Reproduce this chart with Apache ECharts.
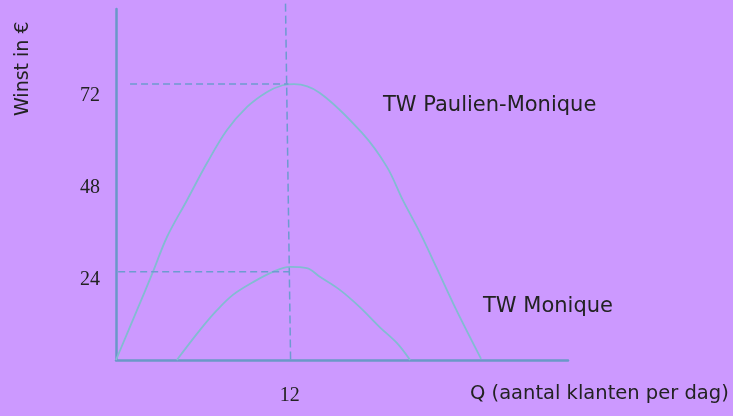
<!DOCTYPE html>
<html>
<head>
<meta charset="utf-8">
<script src="https://cdn.jsdelivr.net/npm/echarts@6/dist/echarts.min.js"></script>
<style>
  html, body { margin: 0; padding: 0; background: #cc99ff; }
  #main { width: 733px; height: 416px; }
</style>
</head>
<body>
<div id="main"></div>
<script>
// TW Paulien-Monique
var bigQ = [0, 1.45, 2.55, 3.52, 4.9, 6.28, 7.66, 9.03, 10.4, 11.5, 12.3, 14.07, 17.0, 18.7, 19.8, 21.0, 22.1, 23.5, 25.2];
var bigW = [0, 13.0, 23.0, 32.1, 41.7, 51.4, 60.0, 66.0, 69.9, 71.7, 72, 69.7, 59.2, 50.4, 41.7, 33.1, 24.3, 13.0, 0.3];

// TW Monique
var smallQ = [4.2, 5.79, 6.97, 8.07, 9.45, 10.83, 12.0, 13.17, 14.07, 15.45, 16.83, 18.2, 19.4, 20.3];
var smallW = [0, 7.8, 13.0, 17.0, 20.3, 23.0, 24.3, 24.0, 21.7, 18.3, 13.8, 8.6, 4.4, 0];

// hulplijnen
var line72 = [[0.97, 72], [11.9, 72]];
var line24 = [[0.15, 23], [12.0, 23]];
var line12 = [[11.7, 93], [12.05, 0]];

var yTicks = [24, 48, 72];
var xTicks = [12];

function pairs(xs, ys) {
  return xs.map(function (x, i) { return [x, ys[i]]; });
}

var chartDom = document.getElementById('main');
var myChart = echarts.init(chartDom);

var curveColor = '#82bcd2';
var dashColor = '#6d9bd0';
var axisColor = '#6a98c8';
var textFont = '"DejaVu Sans", sans-serif';

var option = {
  backgroundColor: '#cc99ff',
  animation: false,
  grid: { left: 116, top: 9, right: 165, bottom: 56 },
  xAxis: {
    type: 'value',
    min: 0,
    max: 31.2,
    interval: 12,
    splitLine: { show: false },
    axisTick: { show: false },
    axisLine: { show: true, lineStyle: { color: axisColor, width: 2.5 } },
    axisLabel: {
      margin: 26,
      color: '#222',
      fontFamily: '"Liberation Serif", serif',
      fontSize: 20,
      formatter: function (v) { return xTicks.indexOf(v) >= 0 ? v : ''; }
    }
  },
  yAxis: {
    type: 'value',
    min: 0,
    max: 91.6,
    interval: 24,
    splitLine: { show: false },
    axisTick: { show: false },
    axisLine: { show: true, lineStyle: { color: axisColor, width: 2.5 } },
    axisLabel: {
      margin: 16,
      color: '#222',
      fontFamily: '"Liberation Serif", serif',
      fontSize: 20,
      verticalAlign: 'top',
      padding: [2, 0, 0, 0],
      formatter: function (v) { return yTicks.indexOf(v) >= 0 ? v : ''; }
    }
  },
  graphic: [
    { type: 'text', left: 383, top: 95, style: { text: 'TW Paulien-Monique', font: '21px ' + textFont, fill: '#222' } },
    { type: 'text', left: 483, top: 296, style: { text: 'TW Monique', font: '21px ' + textFont, fill: '#222' } },
    { type: 'text', left: 470, top: 384, style: { text: 'Q (aantal klanten per dag)', font: '19.5px ' + textFont, fill: '#222' } },
    { type: 'text', x: 14, y: 116, rotation: Math.PI / 2, style: { text: 'Winst in €', font: '19px ' + textFont, fill: '#222' } }
  ],
  series: [
    {
      type: 'line',
      data: pairs(bigQ, bigW),
      smooth: 0.35,
      symbol: 'none',
      lineStyle: { color: curveColor, width: 1.8 }
    },
    {
      type: 'line',
      data: pairs(smallQ, smallW),
      smooth: 0.35,
      symbol: 'none',
      lineStyle: { color: curveColor, width: 1.8 }
    },
    {
      type: 'line',
      data: line72,
      symbol: 'none',
      lineStyle: { color: dashColor, width: 1.5, type: [7, 4] }
    },
    {
      type: 'line',
      data: line24,
      symbol: 'none',
      lineStyle: { color: dashColor, width: 1.5, type: [7, 4] }
    },
    {
      type: 'line',
      data: line12,
      symbol: 'none',
      clip: false,
      lineStyle: { color: dashColor, width: 1.5, type: [8, 4] }
    }
  ]
};

myChart.setOption(option);
</script>
</body>
</html>
